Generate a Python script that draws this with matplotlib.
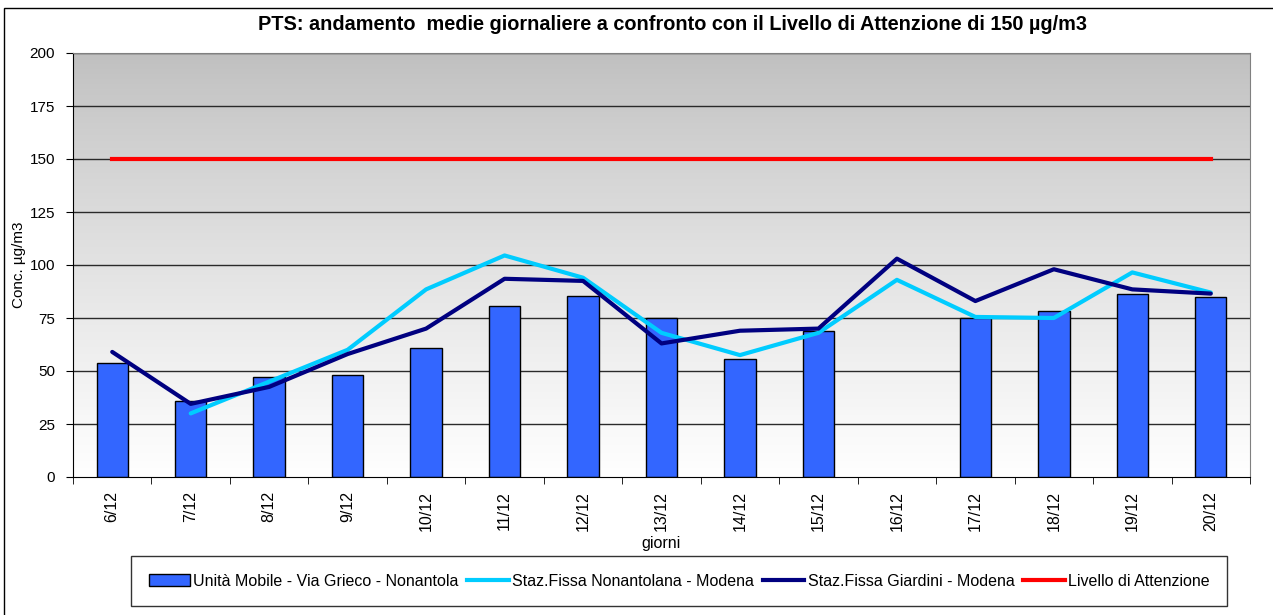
import matplotlib
matplotlib.use('Agg')
import matplotlib.pyplot as plt
import numpy as np
from matplotlib.patches import Rectangle, Patch
from matplotlib.lines import Line2D

plt.rcParams['font.family'] = ['Liberation Sans', 'DejaVu Sans']

days = ['6/12', '7/12', '8/12', '9/12', '10/12', '11/12', '12/12', '13/12',
        '14/12', '15/12', '16/12', '17/12', '18/12', '19/12', '20/12']
mobile = [54, 36, 47, 48, 61, 80.5, 85.5, 75, 55.5, 69, np.nan, 75, 78.5, 86.5, 85]
nonantolana = [np.nan, 30, 45, 60, 88.5, 104.5, 94, 68, 57.5, 68, 93, 75.5, 75, 96.5, 87]
giardini = [59, 34.5, 42.5, 58, 70, 93.5, 92.5, 63, 69, 70, 103, 83, 98, 88.5, 86.5]
threshold = [150] * len(days)

title = 'PTS: andamento  medie giornaliere a confronto con il Livello di Attenzione di 150 µg/m3'
names = ['Unità Mobile - Via Grieco - Nonantola', 'Staz.Fissa Nonantolana - Modena',
         'Staz.Fissa Giardini - Modena', 'Livello di Attenzione']

W, H = 1273, 615
fig = plt.figure(figsize=(W / 100, H / 100), dpi=100)
ax = fig.add_axes([73 / W, 1 - 477 / H, (1250 - 73) / W, (477 - 53) / H])

x = np.arange(len(days))

# gradient background: gray at top -> white at bottom
grad = np.linspace(0, 1, 256).reshape(-1, 1)
shade = 0.75 + 0.25 * grad ** 0.85
img = np.dstack([shade, shade, shade])[::-1]
ax.imshow(img, extent=(-0.5, len(days) - 0.5, 0, 200), aspect='auto', zorder=0,
          origin='lower', interpolation='bilinear')

for yv in range(25, 201, 25):
    ax.axhline(yv, color='#2a2a2a', lw=1.0, zorder=1)

ax.bar(x, mobile, width=0.4, color='#3366FF', edgecolor='black', linewidth=1.0, zorder=2)
ax.plot(x, nonantolana, color='#00CCFF', lw=3, zorder=3, solid_capstyle='round')
ax.plot(x, giardini, color='#000080', lw=3, zorder=4, solid_capstyle='round')
ax.plot(x, threshold, color='#FF0000', lw=3, zorder=5)

ax.set_xlim(-0.5, len(days) - 0.5)
ax.set_ylim(0, 200)
ax.set_yticks(range(0, 201, 25))
ax.set_xticks(x)
ax.set_xticklabels(days, rotation=90, fontsize=11.5)
ax.set_xticks(np.arange(-0.5, len(days)), minor=True)
ax.tick_params(axis='x', which='major', length=0, pad=10)
ax.tick_params(axis='x', which='minor', length=5, direction='out', color='black')
ax.tick_params(axis='y', length=5, direction='out', labelsize=11, pad=8)
for s in ['top', 'right']:
    ax.spines[s].set_color('#808080')
for s in ['left', 'bottom']:
    ax.spines[s].set_color('black')

ax.set_ylabel('Conc. µg/m3', fontsize=11)
ax.yaxis.set_label_coords((26 - 73) / (1250 - 73), 0.5)
ax.set_xlabel('giorni', fontsize=11.5, labelpad=4)

fig.text(672 / W, 1 - 25 / H, title, ha='center', va='center', fontsize=14.3, fontweight='bold')

fig.patches.append(Rectangle((4 / W, -0.05), 1.1, 1 - 8 / H + 0.05,
                             transform=fig.transFigure, fill=False, edgecolor='black', lw=1))

handles = [Patch(facecolor='#3366FF', edgecolor='black', linewidth=1.0),
           Line2D([], [], color='#00CCFF', lw=3),
           Line2D([], [], color='#000080', lw=3),
           Line2D([], [], color='#FF0000', lw=3)]
leg = fig.legend(handles, names, loc='center', bbox_to_anchor=(679 / W, 1 - 581 / H), ncol=4,
                 fontsize=11.5, frameon=True, fancybox=False, edgecolor='black',
                 handlelength=2.6, handletextpad=0.2, columnspacing=0.55, borderpad=1.1)
leg.get_frame().set_linewidth(1)

fig.savefig('out.png', dpi=100)
